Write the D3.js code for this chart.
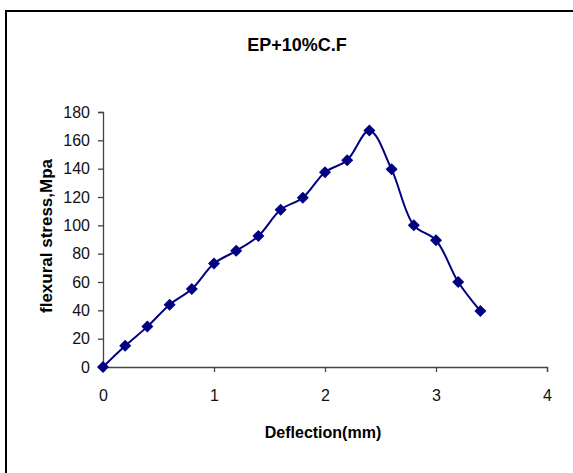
<!DOCTYPE html>
<html>
<head>
<meta charset="utf-8">
<script src="https://cdn.jsdelivr.net/npm/d3@7"></script>
<style>
  html, body { margin: 0; padding: 0; background: #fff; }
  svg { display: block; }
  text { font-family: "Liberation Sans", Arial, sans-serif; }
</style>
</head>
<body>
<svg id="chart" width="573" height="473"></svg>
<script>
const deflection = [0, 0.2, 0.4, 0.6, 0.8, 1.0, 1.2, 1.4, 1.6, 1.8, 2.0, 2.2, 2.4, 2.6, 2.8, 3.0, 3.2, 3.4];
const stress     = [0, 15, 28.5, 44, 55, 73, 82, 92.5, 111, 119.5, 137.5, 146, 167, 139.5, 100, 89.5, 60, 39.5];
const xTicks = [0, 1, 2, 3, 4];
const yTicks = [0, 20, 40, 60, 80, 100, 120, 140, 160, 180];
const titleText = "EP+10%C.F";
const xTitle = "Deflection(mm)";
const yTitle = "flexural stress,Mpa";

const svg = d3.select("#chart");
const lineColor = "#000080";

// outer frame
svg.append("rect").attr("x", 6).attr("y", 11).attr("width", 700).attr("height", 600)
  .attr("fill", "none").attr("stroke", "#000").attr("stroke-width", 2);

const x = d3.scaleLinear().domain([0, 4]).range([103, 547]);
const y = d3.scaleLinear().domain([0, 180]).range([367, 112]);

const axisColor = "#444";

const gx = svg.append("g").attr("transform", `translate(0,${y(0)})`)
  .call(d3.axisBottom(x).tickValues(xTicks).tickSizeOuter(0).tickSize(5).tickPadding(18).tickFormat(d3.format("d")));
const gy = svg.append("g").attr("transform", `translate(${x(0)},0)`)
  .call(d3.axisLeft(y).tickValues(yTicks).tickSizeOuter(0).tickSize(5).tickPadding(8).tickFormat(d3.format("d")));

[gx, gy].forEach(g => {
  g.select(".domain").attr("stroke", axisColor).attr("stroke-width", 1.3);
  g.selectAll(".tick line").attr("stroke", axisColor).attr("stroke-width", 1.3);
  g.selectAll(".tick text").attr("fill", "#111").style("font-size", "16px")
    .style("font-family", "'Liberation Sans', Arial, sans-serif");
});

const data = deflection.map((d, i) => ({x: d, y: stress[i]}));

svg.append("path").datum(data)
  .attr("fill", "none").attr("stroke", lineColor).attr("stroke-width", 2)
  .attr("d", d3.line().x(d => x(d.x)).y(d => y(d.y)).curve(d3.curveCatmullRom.alpha(0.5)));

svg.append("g").selectAll("path").data(data).join("path")
  .attr("d", d3.symbol(d3.symbolSquare, 72)())
  .attr("transform", d => `translate(${x(d.x)},${y(d.y)}) rotate(45)`)
  .attr("fill", lineColor);

svg.append("text").attr("x", 297).attr("y", 51).attr("text-anchor", "middle")
  .style("font-size", "18px").style("font-weight", "bold").text(titleText);

svg.append("text").attr("x", 323).attr("y", 438).attr("text-anchor", "middle")
  .style("font-size", "16px").style("font-weight", "bold").text(xTitle);

svg.append("text").attr("transform", "translate(52,236) rotate(-90)").attr("text-anchor", "middle")
  .style("font-size", "17px").style("font-weight", "bold").text(yTitle);
</script>
</body>
</html>
